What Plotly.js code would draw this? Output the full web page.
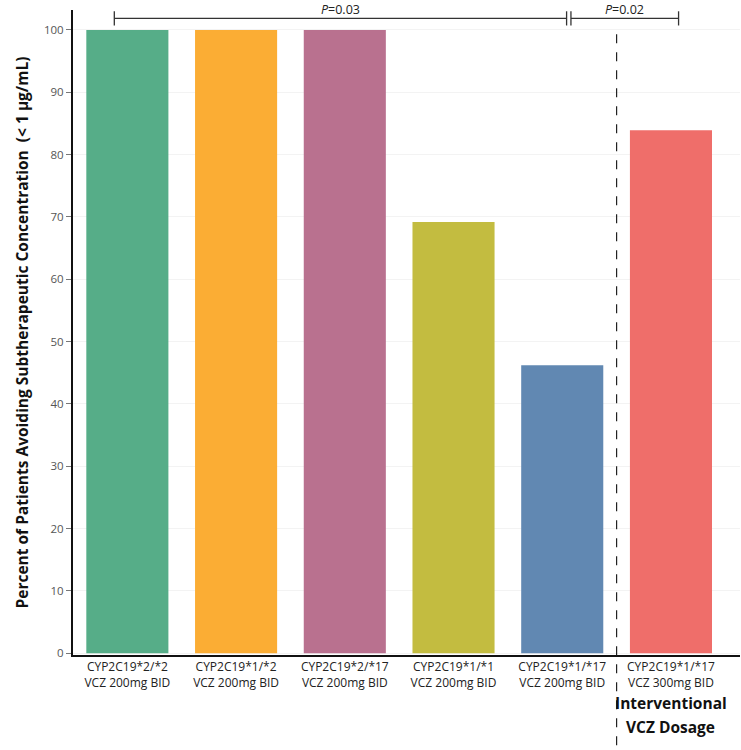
<!DOCTYPE html>
<html><head><meta charset="utf-8">
<script src="https://cdn.plot.ly/plotly-3.0.1.min.js"></script>
<style>body{margin:0;padding:0;background:#fff}#c{width:741px;height:750px}</style>
</head><body><div id="c"></div>
<script>
const categories = [
  "CYP2C19*2/*2<br>VCZ 200mg BID",
  "CYP2C19*1/*2<br>VCZ 200mg BID",
  "CYP2C19*2/*17<br>VCZ 200mg BID",
  "CYP2C19*1/*1<br>VCZ 200mg BID",
  "CYP2C19*1/*17<br>VCZ 200mg BID",
  "CYP2C19*1/*17<br>VCZ 300mg BID"
];
const values = [100, 100, 100, 69.2, 46.2, 83.9];
const colors = ["#56AD88", "#FBAD34", "#B9718F", "#C3BC40", "#6188B2", "#EF6E6A"];
const yTicks = [0, 10, 20, 30, 40, 50, 60, 70, 80, 90, 100];
const pLabels = ["<i>P</i>=0.03", "<i>P</i>=0.02"];
const groupLabel = ["<b>Interventional</b>", "<b>VCZ Dosage</b>"];

const idx = categories.map((_, i) => i);
const trace = {
  type: "bar", x: idx, y: values, width: 0.755,
  marker: {color: colors, line: {width: 0}},
  hoverinfo: "skip"
};

const by = 0.987; // bracket y (paper)
const tk = 0.011;
const lc = {color: "#333", width: 1.3};
const shapes = [
  {type: "line", xref: "x", yref: "paper", x0: 4.5, x1: 4.5, y0: -0.14, y1: 0.972,
   line: {color: "#222", width: 1.2, dash: "dash"}},
  {type: "line", xref: "x", yref: "paper", x0: -0.12, x1: 4.04, y0: by, y1: by, line: lc},
  {type: "line", xref: "x", yref: "paper", x0: -0.12, x1: -0.12, y0: by - tk, y1: by + tk, line: lc},
  {type: "line", xref: "x", yref: "paper", x0: 4.04, x1: 4.04, y0: by - tk, y1: by + tk, line: lc},
  {type: "line", xref: "x", yref: "paper", x0: 4.08, x1: 5.07, y0: by, y1: by, line: lc},
  {type: "line", xref: "x", yref: "paper", x0: 4.08, x1: 4.08, y0: by - tk, y1: by + tk, line: lc},
  {type: "line", xref: "x", yref: "paper", x0: 5.07, x1: 5.07, y0: by - tk, y1: by + tk, line: lc}
];

const pf = {family: "Open Sans, sans-serif", size: 12.5, color: "#222"};
const gf = {family: "Open Sans, sans-serif", size: 15.5, color: "#111"};
const pY = (655 - 9.5) / 645;
const annotations = [
  {xref: "x", yref: "paper", x: (-0.12 + 4.04) / 2, y: pY, text: pLabels[0], showarrow: false,
   yanchor: "middle", font: pf},
  {xref: "x", yref: "paper", x: (4.08 + 5.07) / 2, y: pY, text: pLabels[1], showarrow: false,
   yanchor: "middle", font: pf},
  {xref: "x", yref: "paper", x: 5, y: (655 - 703) / 645, text: groupLabel[0], showarrow: false,
   yanchor: "middle", font: gf},
  {xref: "x", yref: "paper", x: 5, y: (655 - 727) / 645, text: groupLabel[1], showarrow: false,
   yanchor: "middle", font: gf}
];

const layout = {
  width: 741, height: 750,
  margin: {l: 73, r: 1, t: 10, b: 95},
  paper_bgcolor: "#fff", plot_bgcolor: "#fff",
  showlegend: false,
  xaxis: {
    range: [-0.5, 5.635], tickvals: idx, ticktext: categories,
    showline: true, linecolor: "#111", linewidth: 2, ticks: "", showgrid: false, zeroline: false,
    tickfont: {family: "Open Sans, sans-serif", size: 12, color: "#222"}, fixedrange: true
  },
  yaxis: {
    range: [-0.3, 103.2], tickvals: yTicks,
    showline: true, linecolor: "#111", linewidth: 2, ticks: "outside", ticklen: 5, tickcolor: "#777",
    showgrid: true, gridcolor: "#f3f3f3", zeroline: false,
    tickfont: {family: "Open Sans, sans-serif", size: 11.5, color: "#555"},
    title: {text: "<b>Percent of Patients Avoiding Subtherapeutic Concentration  (< 1 μg/mL)</b>",
            font: {family: "Open Sans, sans-serif", size: 15.5, color: "#111"}, standoff: 12}
  },
  shapes: shapes, annotations: annotations
};

Plotly.newPlot("c", [trace], layout, {displayModeBar: false, staticPlot: true});
</script></body></html>
